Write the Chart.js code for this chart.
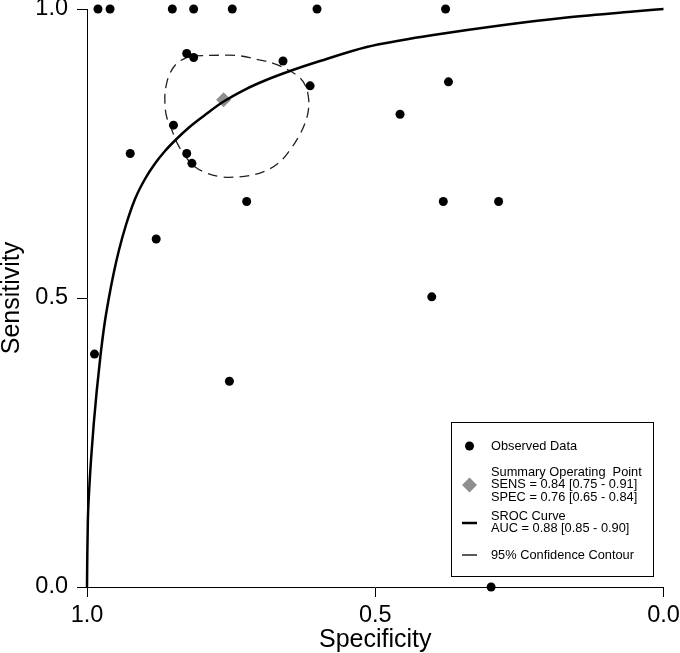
<!DOCTYPE html>
<html><head><meta charset="utf-8">
<script src="https://cdn.jsdelivr.net/npm/chart.js@4.4.1/dist/chart.umd.min.js"></script>
<style>html,body{margin:0;padding:0;background:#fff}#wrap{width:680px;height:653px;position:relative}</style>
</head><body><div id="wrap"><canvas id="c"></canvas></div>
<script>
// Observed data (specificity, sensitivity)
const obsSpec = [0.981,0.960,0.852,0.815,0.748,0.601,0.378,
  0.827,0.815,0.660,0.613,0.850,0.925,0.827,0.818,0.723,0.880,
  0.373,0.457,0.382,0.286,0.402,0.987,0.753,0.299];
const obsSens = [1.0,1.0,1.0,1.0,1.0,1.0,1.0,
  0.923,0.916,0.910,0.867,0.799,0.750,0.750,0.733,0.667,0.602,
  0.874,0.818,0.667,0.667,0.502,0.403,0.356,0.0];
// Summary operating point
const sumSpec = [0.763];
const sumSens = [0.843];
// SROC curve
const srocSpec = [1.0,0.9995,0.9986,0.9962,0.9927,0.9882,0.9830,0.9769,0.9696,0.9627,0.9540,0.9445,0.9324,0.9167,0.8994,0.8820,0.8647,0.8456,0.8231,0.7953,0.7658,0.7259,0.6912,0.6479,0.5958,0.5148,0.4571,0.3993,0.2836,0.1679,0.0524,0.0];
const srocSens = [0.0,0.0519,0.1107,0.1678,0.2249,0.2837,0.3408,0.3979,0.4550,0.4965,0.5415,0.5830,0.6263,0.6713,0.7059,0.7327,0.7543,0.7742,0.7950,0.8166,0.8382,0.8607,0.8763,0.8927,0.9100,0.9343,0.9455,0.9550,0.9715,0.9853,0.9957,1.0];
// 95% confidence contour
const contSpec = [0.816,0.764,0.735,0.706,0.677,0.654,0.633,0.622,0.616,0.616,0.622,0.633,0.648,0.665,0.688,0.717,0.746,0.769,0.792,0.813,0.827,0.842,0.853,0.862,0.865,0.863,0.856,0.844,0.827,0.816];
const contSens = [0.919,0.920,0.919,0.913,0.906,0.896,0.883,0.869,0.848,0.825,0.802,0.779,0.756,0.736,0.721,0.712,0.709,0.710,0.716,0.727,0.742,0.765,0.791,0.814,0.843,0.866,0.889,0.906,0.916,0.919];
const tickVals = [0, 0.5, 1];
const xTitle = 'Specificity';
const yTitle = 'Sensitivity';
const legendObs = 'Observed Data';
const legendSum = ['Summary Operating  Point','SENS = 0.84 [0.75 - 0.91]','SPEC = 0.76 [0.65 - 0.84]'];
const legendSroc = ['SROC Curve','AUC = 0.88 [0.85 - 0.90]'];
const legendCont = '95% Confidence Contour';

const zip = (a,b) => a.map((v,i)=>({x:v,y:b[i]}));
const FONT = "'Liberation Sans', Arial, sans-serif";

const legendPlugin = {
  id:'boxLegend',
  afterDraw(chart){
    const ctx = chart.ctx;
    ctx.save();
    ctx.strokeStyle='#000'; ctx.lineWidth=1;
    ctx.strokeRect(451.5,422.5,202,154);
    ctx.fillStyle='#000';
    ctx.font = '12.8px ' + FONT;
    ctx.textBaseline='middle'; ctx.textAlign='left';
    const tx = 491;
    ctx.beginPath(); ctx.arc(469.5,446,4.5,0,Math.PI*2); ctx.fill();
    ctx.fillText(legendObs, tx, 446);
    ctx.fillStyle='#8f8f8f';
    ctx.beginPath(); ctx.moveTo(469.5,477.5); ctx.lineTo(477,485); ctx.lineTo(469.5,492.5); ctx.lineTo(462,485); ctx.closePath(); ctx.fill();
    ctx.fillStyle='#000';
    legendSum.forEach((t,i)=>ctx.fillText(t, tx, 472+i*12.5));
    ctx.lineWidth=2.5; ctx.beginPath(); ctx.moveTo(462,523); ctx.lineTo(477,523); ctx.stroke();
    legendSroc.forEach((t,i)=>ctx.fillText(t, tx, 516+i*12.5));
    ctx.lineWidth=1.3; ctx.beginPath(); ctx.moveTo(462,555); ctx.lineTo(477,555); ctx.stroke();
    ctx.fillText(legendCont, tx, 555);
    ctx.restore();
  }
};

new Chart(document.getElementById('c'), {
  type:'scatter',
  data:{datasets:[
    {label:'Observed', data:zip(obsSpec,obsSens), pointRadius:4.5, pointHoverRadius:4.5, backgroundColor:'#000', borderWidth:0, clip:false},
    {label:'SROC', data:zip(srocSpec,srocSens), showLine:true, pointRadius:0, borderColor:'#000', borderWidth:2.5, cubicInterpolationMode:'monotone', clip:false},
    {label:'Contour', data:zip(contSpec,contSens), showLine:true, pointRadius:0, borderColor:'#222', borderWidth:1.3, borderDash:[10,6], tension:0.4, clip:false},
    {label:'Summary', data:zip(sumSpec,sumSens), pointStyle:'rectRot', pointRadius:7.5, backgroundColor:'#8f8f8f', borderWidth:0, clip:false}
  ]},
  options:{
    responsive:true, maintainAspectRatio:false, animation:false,
    devicePixelRatio:1,
    layout:{padding:{top:9,right:16.5,left:0,bottom:0}},
    plugins:{legend:{display:false}, tooltip:{enabled:false}},
    scales:{
      x:{type:'linear', min:0, max:1, reverse:true,
        afterBuildTicks(s){ s.ticks = tickVals.map(v=>({value:v})); },
        afterFit(s){ s.height=66; s.paddingLeft=0; s.paddingRight=0; },
        ticks:{callback:v=>v.toFixed(1), color:'#000', padding:4.5, maxRotation:0, autoSkip:false, font:{family:FONT,size:23.5,lineHeight:1.2}},
        grid:{display:true, drawOnChartArea:false, drawTicks:true, tickLength:10, color:'#000', lineWidth:1},
        border:{display:true, color:'#000', width:1},
        title:{display:true, text:xTitle, color:'#000', font:{family:FONT,size:25,lineHeight:1}, padding:{top:0,bottom:0}}
      },
      y:{type:'linear', min:0, max:1,
        afterBuildTicks(s){ s.ticks = tickVals.map(v=>({value:v})); },
        afterFit(s){ s.width=87; s.paddingTop=0; s.paddingBottom=0; },
        ticks:{callback:v=>v.toFixed(1), color:'#000', padding:9, autoSkip:false, font:{family:FONT,size:23.5,lineHeight:0.7}},
        grid:{display:true, drawOnChartArea:false, drawTicks:true, tickLength:10, color:'#000', lineWidth:1},
        border:{display:true, color:'#000', width:1},
        title:{display:true, text:yTitle, color:'#000', font:{family:FONT,size:25,lineHeight:1}, padding:{top:0,bottom:0}}
      }
    }
  },
  plugins:[legendPlugin]
});
</script></body></html>
